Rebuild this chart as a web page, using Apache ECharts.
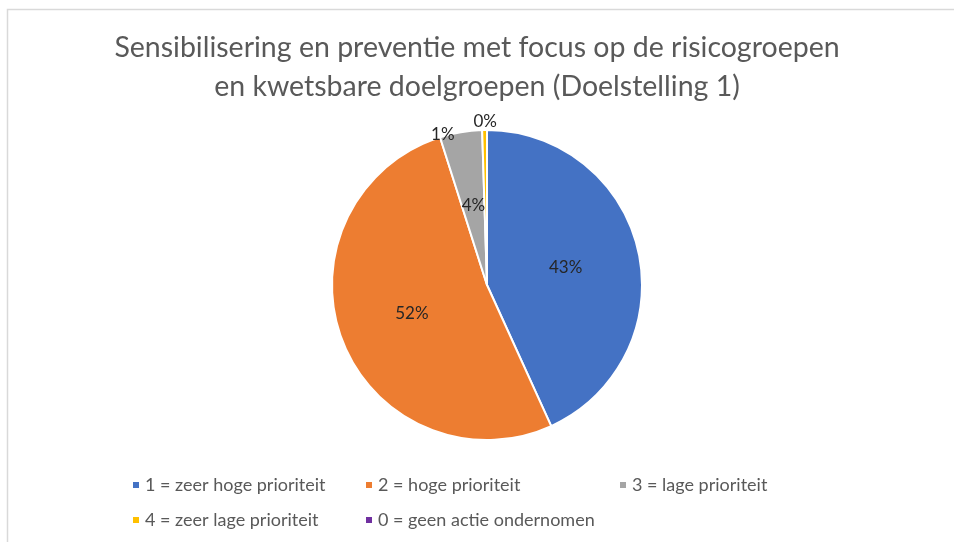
<!DOCTYPE html>
<html>
<head>
<meta charset="utf-8">
<script src="https://cdn.jsdelivr.net/npm/echarts@6/dist/echarts.min.js"></script>
<style>
html,body{margin:0;padding:0;background:#fff;}
#c{width:954px;height:542px;}
</style>
</head>
<body>
<div id="c"></div>
<script>
const titleLines = ['Sensibilisering en preventie met focus op de risicogroepen', 'en kwetsbare doelgroepen (Doelstelling 1)'];
const categories = ['1 = zeer hoge prioriteit', '2 = hoge prioriteit', '3 = lage prioriteit', '4 = zeer lage prioriteit', '0 = geen actie ondernomen'];
const values = [43.2, 51.9, 4.4, 0.5, 0];
const colors = ['#4472C4', '#ED7D31', '#A5A5A5', '#FFC000', '#7030A0'];
const labelPositions = ['inside', 'inside', 'inside', 'outside', 'outside'];

const FONT = 'Lato';
const chart = echarts.init(document.getElementById('c'), null, {renderer: 'canvas'});

const legendText = {fontFamily: FONT, fontSize: 18, color: '#595959'};
function legendFor(names, left) {
  return {
    orient: 'vertical', left: left, top: 471,
    data: names, icon: 'rect', itemWidth: 8, itemHeight: 8, itemGap: 17,
    textStyle: legendText, selectedMode: false
  };
}

chart.setOption({
  animation: false,
  color: colors,
  title: {
    text: titleLines.join('\n'), left: 'center', top: 23,
    textStyle: {fontFamily: FONT, fontSize: 28.5, fontWeight: 'normal', color: '#595959', lineHeight: 39}
  },
  graphic: [{
    type: 'rect', shape: {x: 7.5, y: 9.5, width: 1000, height: 600},
    style: {fill: 'none', stroke: '#d9d9d9', lineWidth: 1.5}, silent: true
  }],
  legend: [
    legendFor([categories[0], categories[3]], 126),
    legendFor([categories[1], categories[4]], 359),
    legendFor([categories[2]], 613)
  ],
  series: [{
    type: 'pie', center: [487, 285], radius: [0, 155], startAngle: 90, clockwise: true,
    avoidLabelOverlap: false, minShowLabelAngle: 0,
    itemStyle: {borderColor: '#fff', borderWidth: 2},
    label: {fontFamily: FONT, fontSize: 17, color: '#262626',
      formatter: p => Math.round(p.percent) + '%'},
    labelLine: {show: false, length: 0, length2: 0},
    labelLayout: function (p) {
      if (p.dataIndex === 3) return {dx: -30, dy: 4};
      if (p.dataIndex === 4) return {dx: 10, dy: -8};
      return {};
    },
    data: categories.map((n, i) => ({
      name: n, value: values[i],
      label: {position: labelPositions[i], distanceToLabelLine: 0}
    }))
  }]
});
</script>
</body>
</html>
